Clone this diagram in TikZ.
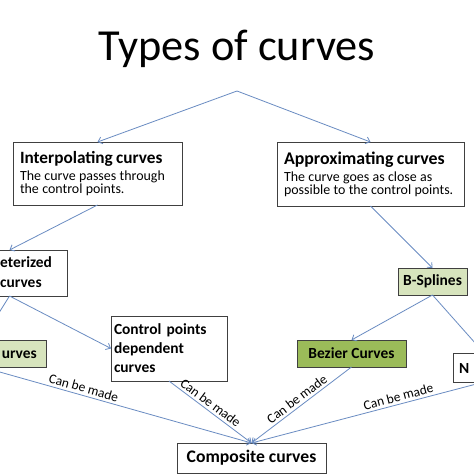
\documentclass[tikz,border=0pt]{standalone}
\usepackage{fontspec}
\setmainfont{Carlito}
\usetikzlibrary{arrows.meta}
\definecolor{linec}{HTML}{6A8CC2}
\definecolor{lgreen}{HTML}{D7E4BD}
\definecolor{dgreen}{HTML}{9BBB59}
\definecolor{boxline}{HTML}{404040}
\tikzset{
  box/.style={draw=boxline, line width=0.9bp, fill=white, anchor=north west, inner sep=0pt, outer sep=0pt},
  conn/.style={draw=linec, line width=0.8bp, -{Straight Barb[length=4bp,width=7bp]}},
  lbl/.style={font=\fontsize{13.5}{15}\selectfont, sloped, above, inner sep=2.5bp},
  hdb/.style={font=\fontsize{17.7}{20}\selectfont\bfseries},
  hds/.style={font=\fontsize{15.5}{19}\selectfont\bfseries},
}
\begin{document}
\begin{tikzpicture}[x=1bp,y=-1bp]
\useasboundingbox (0,0) rectangle (474,474);
\clip (0,0) rectangle (474,474);
\fill[white] (0,0) rectangle (474,474);
\node[font=\fontsize{44.5}{50}\selectfont, anchor=base] (title) at (237,61) {Types of curves};
\coordinate (apex) at (237,91);
% boxes
\node[box, minimum width=169bp, minimum height=63bp, text width=155bp, align=left] (interp) at (13,142)
  {\fontsize{17.3}{17}\selectfont\bfseries\mbox{Interpolating curves}\\\normalfont\fontsize{14}{17}\selectfont The curve passes through\\the control points.};
\node[box, minimum width=187bp, minimum height=64bp, text width=173bp, align=left] (approx) at (277,142)
  {\fontsize{17.9}{17}\selectfont\bfseries\mbox{Approximating curves}\\\normalfont\fontsize{14}{17}\selectfont The curve goes as close as\\possible to the control points.};
\node[box, minimum width=115bp, minimum height=46bp] (param) at (-48,250) {};
\node[hds, anchor=base west, inner sep=0pt] (paramtxt1) at (0,267) {eterized};
\node[hds, anchor=base west, inner sep=0pt] (paramtxt2) at (0,287) {curves};
\node[box, fill=lgreen, minimum width=128bp, minimum height=27bp] (lgbox) at (-82,340) {};
\node[hds, anchor=base east, inner sep=0pt] (lgtxt) at (37,358.5) {urves};
\node[box, hds, minimum width=116bp, minimum height=65bp, text width=106bp, align=left] (ctrl) at (111,316)
  {\hspace*{-2bp}\mbox{Control points}\\\hspace*{-2bp}dependent\\\hspace*{-2bp}curves};
\node[box, hds, fill=lgreen, minimum width=69bp, minimum height=27bp, align=center] (bspl) at (398,268) {B-Splines};
\node[box, hds, fill=dgreen, minimum width=109bp, minimum height=27bp, align=center] (bez) at (297,340) {Bezier Curves};
\node[box, minimum width=62bp, minimum height=29bp] (nbox) at (453,353) {};
\node[hds, anchor=base west, inner sep=0pt] (ntxt) at (459,373) {N};
\node[box, hdb, minimum width=149bp, minimum height=30bp, align=center] (comp) at (177,443) {Composite curves};
% connectors
\draw[conn] (apex) -- (interp.north);
\draw[conn] (apex) -- (approx.north);
\draw[conn] (interp.south) -- (param.north);
\draw[conn] (param.south) -- (ctrl.west);
\draw[conn] (param.south) -- (lgbox.north);
\draw[conn] (approx.south) -- (bspl.north);
\draw[conn] (bspl.south) -- (bez.north);
\draw[conn] (bspl.south) -- (nbox.north);
\draw[conn] (lgbox.south) -- node[lbl, pos=0.37] {Can be made} (comp.north);
\draw[conn] (ctrl.south) -- node[lbl, pos=0.45] {Can be made} (comp.north);
\draw[conn] (bez.south) -- node[lbl, pos=0.5] {Can be made} (comp.north);
\draw[conn] (nbox.south) -- node[lbl, pos=0.36] {Can be made} (comp.north);
\end{tikzpicture}
\end{document}
